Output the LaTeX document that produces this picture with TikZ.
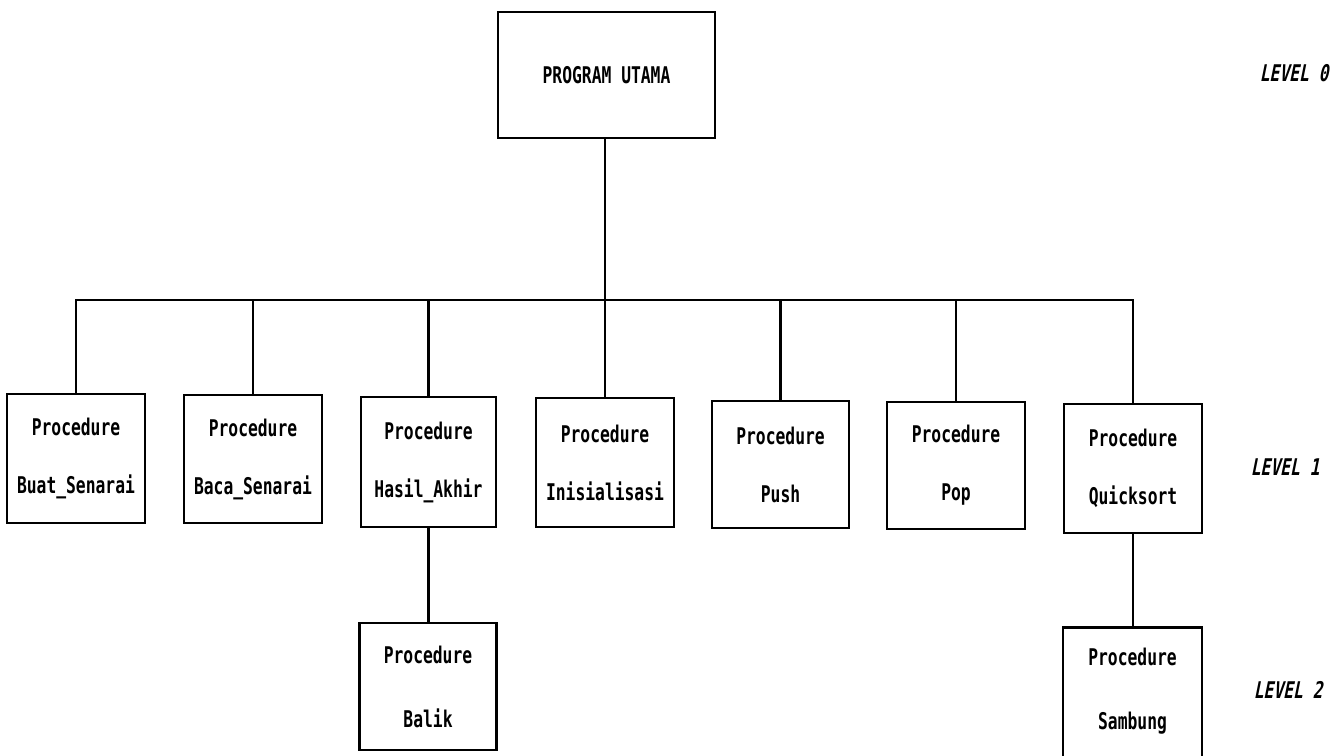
\documentclass[tikz,border=0pt]{standalone}
\usepackage{fontspec}
\newfontfamily\dmfont[FakeStretch=0.71]{DejaVu Sans Mono}
\newfontfamily\dmitfont[FakeStretch=0.71,FakeSlant=0.2]{DejaVu Sans Mono}
\begin{document}
\begin{tikzpicture}[x=0.5pt,y=-0.5pt,
  box/.style={draw,line width=1.1pt,rectangle,inner sep=0pt,align=center,
    font=\dmfont\bfseries\fontsize{11.5}{29}\selectfont},
  boxtwo/.style={box,font=\dmfont\bfseries\fontsize{11.5}{32}\selectfont},
  conn/.style={line width=1.1pt},
  lvl/.style={font=\dmitfont\bfseries\fontsize{11.5}{12}\selectfont,inner sep=0pt}]
\useasboundingbox (0,0) rectangle (1343,755);

% level 0
\node[box,minimum width=108.5pt,minimum height=63pt] (main) at (606.5,75) {PROGRAM UTAMA};

% level 1
\node[box,minimum width=69pt,minimum height=64.5pt] (buat) at (76,458.5) {Procedure\\Buat\_Senarai};
\node[box,minimum width=69pt,minimum height=64pt] (baca) at (253,459) {Procedure\\Baca\_Senarai};
\node[box,minimum width=67.5pt,minimum height=65pt] (hasil) at (428.5,462) {Procedure\\Hasil\_Akhir};
\node[box,minimum width=69pt,minimum height=64.5pt] (inis) at (605,462.5) {Procedure\\Inisialisasi};
\node[box,minimum width=68.5pt,minimum height=63.5pt] (push) at (780.5,464.5) {Procedure\\Push};
\node[box,minimum width=69pt,minimum height=63.5pt] (pop) at (956,465.5) {Procedure\\Pop};
\node[box,minimum width=69pt,minimum height=64.5pt] (quick) at (1133,468.5) {Procedure\\Quicksort};

% level 2
\node[boxtwo,minimum width=68.5pt,minimum height=63.5pt] (balik) at (428,686.5) {Procedure\\Balik};
\node[boxtwo,draw=none,minimum width=68.5pt,minimum height=63pt] (samb) at (1132.5,691.5) {Procedure\\Sambung};
\draw[conn] (samb.south west) -- (samb.north west) -- (samb.north east) -- (samb.south east);

% bus
\coordinate (bus) at (605,300);
\draw[conn] (main.south -| bus) -- (inis.north -| bus);
\draw[conn] (buat.north) |- (bus) -| (quick.north);
\draw[conn] (baca.north) -- (baca.north |- bus);
\draw[conn] (hasil.north) -- (hasil.north |- bus);
\draw[conn] (push.north) -- (push.north |- bus);
\draw[conn] (pop.north) -- (pop.north |- bus);

\draw[conn] (hasil.south) -- (hasil.south |- balik.north);
\draw[conn] (quick.south) -- (quick.south |- samb.north);

% level labels
\node[lvl] (l0) at (1294,73) {LEVEL 0};
\node[lvl] (l1) at (1285,467) {LEVEL 1};
\node[lvl] (l2) at (1288,690) {LEVEL 2};
\end{tikzpicture}
\end{document}
